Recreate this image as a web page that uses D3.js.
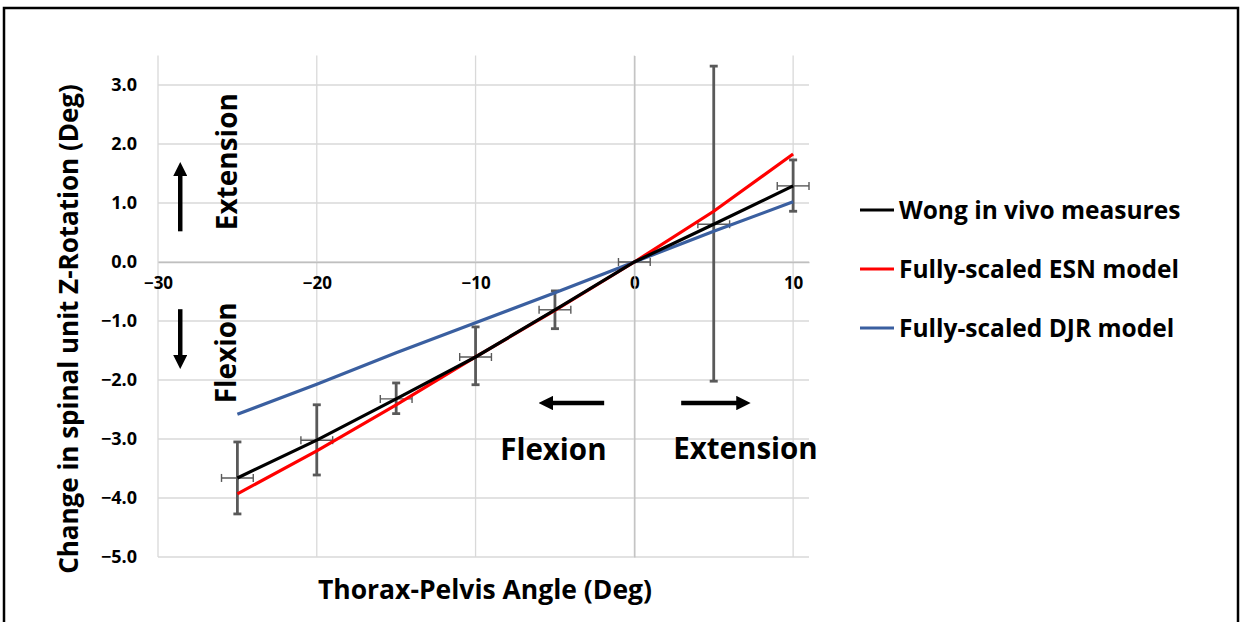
<!DOCTYPE html>
<html>
<head>
<meta charset="utf-8">
<script src="https://cdn.jsdelivr.net/npm/d3@7"></script>
<style>
  body { margin: 0; background: #fff; }
  svg text { font-family: "Open Sans", "DejaVu Sans", sans-serif; }
</style>
</head>
<body>
<div id="plot"></div>
<script>
// data
var angles = [-25, -20, -15, -10, -5, 0, 5, 10];
var wong = [-3.66, -3.02, -2.32, -1.61, -0.81, 0.0, 0.64, 1.29];
var wongUpper = [-3.05, -2.42, -2.05, -1.10, -0.49, 0.0, 3.32, 1.73];
var wongLower = [-4.27, -3.61, -2.57, -2.08, -1.13, 0.0, -2.02, 0.86];
var xErr = [1, 1, 1, 1, 1, 1, 1, 1];
var esn = [-3.93, -3.20, -2.42, -1.61, -0.82, 0.0, 0.86, 1.83];
var djr = [-2.58, -2.07, -1.54, -1.03, -0.52, 0.0, 0.52, 1.02];
var xTicks = [-30, -20, -10, 0, 10];
var yTicks = [3, 2, 1, 0, -1, -2, -3, -4, -5];
var seriesNames = ["Wong in vivo measures", "Fully-scaled ESN model", "Fully-scaled DJR model"];
var seriesColors = ["#000000", "#ff0000", "#3a5fa0"];

var w = 1243, h = 622;
var svg = d3.select("#plot")
    .append("svg")
    .attr("width", w)
    .attr("height", h);

// outer frame
svg.append("rect")
    .attr("x", 4).attr("y", 8)
    .attr("width", 1234).attr("height", 640)
    .attr("fill", "none")
    .attr("stroke", "#000")
    .attr("stroke-width", 2.5);

var xScale = d3.scaleLinear().domain([-30, 11]).range([158, 809]);
var yScale = d3.scaleLinear().domain([-5, 3.5]).range([557, 55.5]);

// gridlines
svg.append("g").selectAll("line")
    .data(yTicks)
    .enter().append("line")
    .attr("x1", xScale(-30)).attr("x2", xScale(11))
    .attr("y1", function (d) { return yScale(d); })
    .attr("y2", function (d) { return yScale(d); })
    .attr("stroke", "#d9d9d9").attr("stroke-width", 1.3);

svg.append("g").selectAll("line")
    .data(xTicks)
    .enter().append("line")
    .attr("x1", function (d) { return xScale(d); })
    .attr("x2", function (d) { return xScale(d); })
    .attr("y1", yScale(3.5)).attr("y2", yScale(-5))
    .attr("stroke", "#d9d9d9").attr("stroke-width", 1.3);

// axes crossing at zero
var xAxis = d3.axisBottom(xScale).tickValues(xTicks).tickSize(0).tickPadding(15);
var gx = svg.append("g")
    .attr("transform", "translate(0," + yScale(0) + ")")
    .call(xAxis);
gx.select(".domain").attr("stroke", "#bfbfbf").attr("stroke-width", 1.3);
gx.selectAll("text")
    .attr("font-size", 17).attr("font-weight", "bold").attr("fill", "#000");

var yAxis = d3.axisLeft(yScale).tickValues(yTicks).tickSize(0)
    .tickFormat(d3.format(".1f"));
var gy = svg.append("g")
    .attr("transform", "translate(" + xScale(0) + ",0)")
    .call(yAxis);
gy.select(".domain").attr("stroke", "#bfbfbf").attr("stroke-width", 1.3);
gy.selectAll("text")
    .attr("x", xScale(-30) - xScale(0) - 21)
    .attr("font-size", 18).attr("font-weight", "bold").attr("fill", "#000");

// series lines
var line = d3.line()
    .x(function (d) { return xScale(d[0]); })
    .y(function (d) { return yScale(d[1]); });

// error bars for Wong
var eb = svg.append("g").attr("stroke", "#595959");
angles.forEach(function (a, i) {
    if (wongUpper[i] !== wongLower[i]) {
        eb.append("line")
            .attr("x1", xScale(a)).attr("x2", xScale(a))
            .attr("y1", yScale(wongUpper[i])).attr("y2", yScale(wongLower[i]))
            .attr("stroke-width", 2.8);
        [wongUpper[i], wongLower[i]].forEach(function (v) {
            eb.append("line")
                .attr("x1", xScale(a) - 4).attr("x2", xScale(a) + 4)
                .attr("y1", yScale(v)).attr("y2", yScale(v))
                .attr("stroke-width", 2.8);
        });
    }
    eb.append("line")
        .attr("x1", xScale(a - xErr[i])).attr("x2", xScale(a + xErr[i]))
        .attr("y1", yScale(wong[i])).attr("y2", yScale(wong[i]))
        .attr("stroke-width", 1.4);
    [a - xErr[i], a + xErr[i]].forEach(function (v) {
        eb.append("line")
            .attr("x1", xScale(v)).attr("x2", xScale(v))
            .attr("y1", yScale(wong[i]) - 4).attr("y2", yScale(wong[i]) + 4)
            .attr("stroke-width", 1.4);
    });
});

[[djr, 2], [esn, 1], [wong, 0]].forEach(function (s) {
    svg.append("path")
        .datum(angles.map(function (a, i) { return [a, s[0][i]]; }))
        .attr("d", line)
        .attr("fill", "none")
        .attr("stroke", seriesColors[s[1]])
        .attr("stroke-width", 3.2);
});

// arrows
svg.append("defs").append("marker")
    .attr("id", "head")
    .attr("viewBox", "0 0 10 10")
    .attr("refX", 2).attr("refY", 5)
    .attr("markerWidth", 3.2).attr("markerHeight", 3.2)
    .attr("orient", "auto")
    .append("path").attr("d", "M0,0 L10,5 L0,10 Z").attr("fill", "#000");

var arrows = [
    [-28.6, 0.52, -28.6, 1.50],
    [-28.6, -0.80, -28.6, -1.62],
    [-1.9, -2.39, -5.3, -2.39],
    [2.95, -2.39, 6.6, -2.39]
];
svg.append("g").selectAll("line")
    .data(arrows)
    .enter().append("line")
    .attr("x1", function (d) { return xScale(d[0]); })
    .attr("y1", function (d) { return yScale(d[1]); })
    .attr("x2", function (d) { return xScale(d[2]); })
    .attr("y2", function (d) { return yScale(d[3]); })
    .attr("stroke", "#000").attr("stroke-width", 4.5)
    .attr("marker-end", "url(#head)");

// annotation text
svg.append("text")
    .attr("transform", "translate(" + (xScale(-25.0)) + "," + yScale(1.7) + ") rotate(-90)")
    .attr("text-anchor", "middle")
    .attr("font-size", 28).attr("font-weight", "bold")
    .text("Extension");
svg.append("text")
    .attr("transform", "translate(" + (xScale(-25.1)) + "," + yScale(-1.54) + ") rotate(-90)")
    .attr("text-anchor", "middle")
    .attr("font-size", 28).attr("font-weight", "bold")
    .text("Flexion");
svg.append("text")
    .attr("x", xScale(-5.1)).attr("y", 460)
    .attr("text-anchor", "middle")
    .attr("font-size", 29.5).attr("font-weight", "bold")
    .text("Flexion");
svg.append("text")
    .attr("x", xScale(7.0)).attr("y", 459)
    .attr("text-anchor", "middle")
    .attr("font-size", 29.5).attr("font-weight", "bold")
    .text("Extension");

// axis titles
svg.append("text")
    .attr("x", 485).attr("y", 599)
    .attr("text-anchor", "middle")
    .attr("font-size", 26.5).attr("font-weight", "bold")
    .text("Thorax-Pelvis Angle (Deg)");
svg.append("text")
    .attr("transform", "translate(78,329) rotate(-90)")
    .attr("text-anchor", "middle")
    .attr("font-size", 26).attr("font-weight", "bold")
    .text("Change in spinal unit Z-Rotation (Deg)");

// legend
var legend = svg.append("g").selectAll("g")
    .data(seriesNames)
    .enter().append("g")
    .attr("transform", function (d, i) { return "translate(860," + (210 + i * 59) + ")"; });
legend.append("line")
    .attr("x1", 0).attr("x2", 34)
    .attr("stroke", function (d, i) { return seriesColors[i]; })
    .attr("stroke-width", 3.2);
legend.append("text")
    .attr("x", 39).attr("dy", "0.35em")
    .attr("font-size", 24.5).attr("font-weight", "bold")
    .text(function (d) { return d; });
</script>
</body>
</html>
